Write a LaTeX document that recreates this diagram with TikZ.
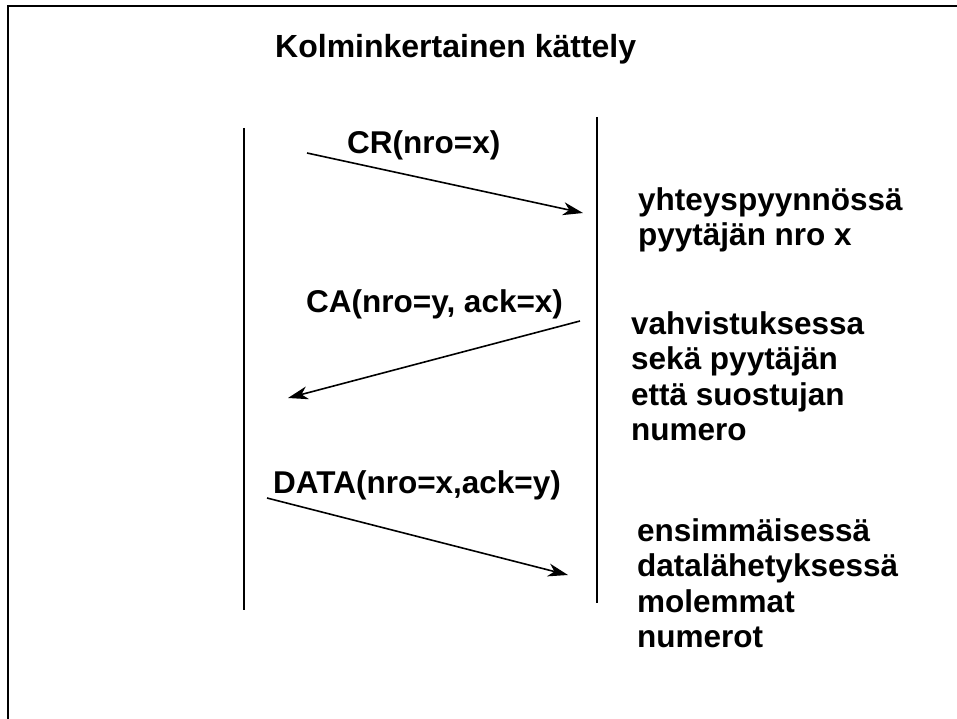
\documentclass[tikz,border=0pt]{standalone}
\usepackage{fontspec}
\setmainfont{Liberation Sans Bold}
\usetikzlibrary{arrows.meta}
\begin{document}
\begin{tikzpicture}[x=1pt,y=-1pt,
  txt/.style={font=\fontsize{31.5}{35.5}\selectfont, inner sep=0pt, anchor=base west, align=left},
  lifeline/.style={line width=2pt},
  msg/.style={line width=1.6pt, -{Stealth[length=20pt,width=13pt,inset=6pt]}}]
\useasboundingbox (0,0) rectangle (957,719);
% frame (runs past the right and bottom edges)
\draw[line width=2pt] (8,6) rectangle (990,750);

% title
\node[txt, font=\fontsize{32}{36}\selectfont] (title) at (275,58) {Kolminkertainen kättely};

% the two parties' time lines
\coordinate (aTop) at (244,128);
\coordinate (aBot) at (244,610);
\coordinate (bTop) at (597,117);
\coordinate (bBot) at (597,603);
\draw[lifeline] (aTop) -- (aBot);
\draw[lifeline] (bTop) -- (bBot);

% messages
\coordinate (crS) at (307,153);
\coordinate (crE) at (583,213);
\coordinate (caS) at (580,321);
\coordinate (caE) at (288,398);
\coordinate (daS) at (267,498);
\coordinate (daE) at (568,575);
\draw[msg] (crS) -- (crE);
\draw[msg] (caS) -- (caE);
\draw[msg] (daS) -- (daE);

% message labels
\node[txt] (cr) at (347,154) {CR(nro=x)};
\node[txt] (ca) at (306,312) {CA(nro=y, ack=x)};
\node[txt] (da) at (273,493) {DATA(nro=x,ack=y)};

% explanations (anchored at the baseline of their last line)
\node[txt] (n1) at (638,245.5) {yhteyspyynnössä\\pyytäjän nro x};
\node[txt] (n2) at (631,440.5) {vahvistuksessa\\sekä pyytäjän\\että suostujan\\numero};
\node[txt] (n3) at (637,647.5) {ensimmäisessä\\datalähetyksessä\\molemmat\\numerot};
\end{tikzpicture}
\end{document}
